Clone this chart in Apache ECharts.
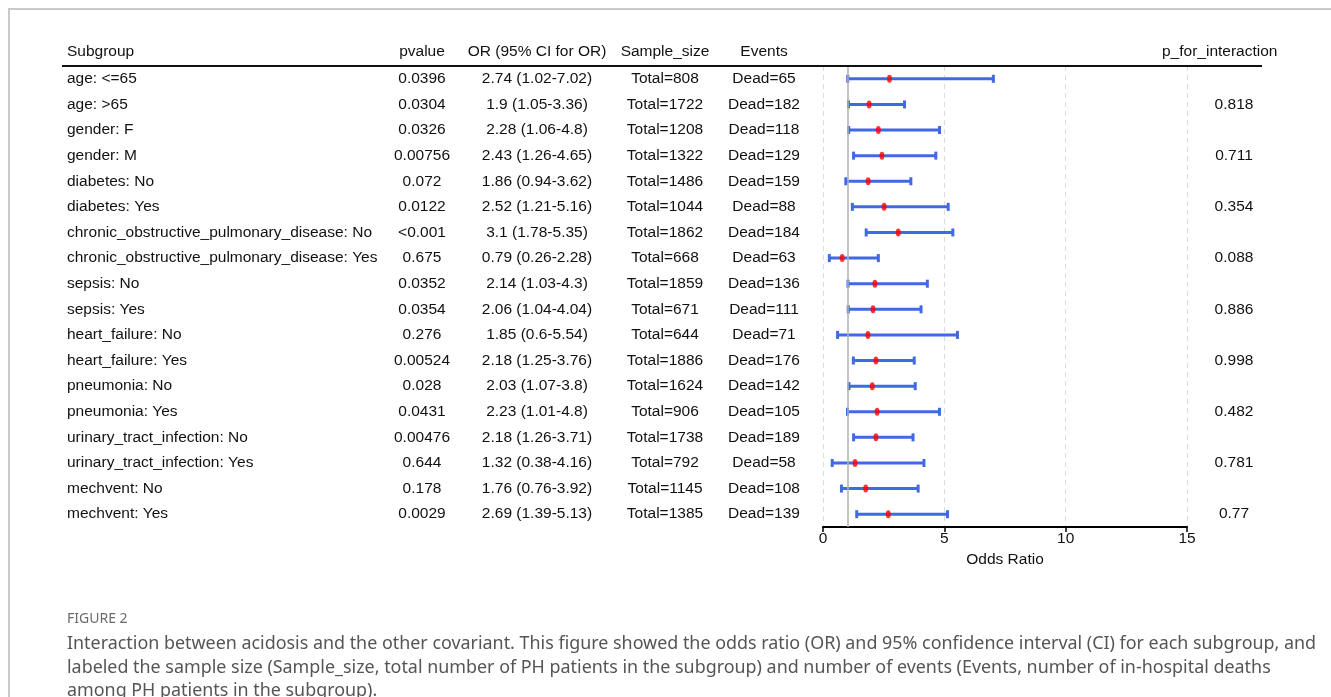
<!DOCTYPE html>
<html>
<head>
<meta charset="utf-8">
<script src="https://cdn.jsdelivr.net/npm/echarts@6/dist/echarts.min.js"></script>
<style>
html,body{margin:0;padding:0;background:#fff;}
#chart{width:1331px;height:697px;}
</style>
</head>
<body>
<div id="chart"></div>
<script>
// ---- data ----
const subgroups = [
  "age: <=65", "age: >65", "gender: F", "gender: M",
  "diabetes: No", "diabetes: Yes",
  "chronic_obstructive_pulmonary_disease: No", "chronic_obstructive_pulmonary_disease: Yes",
  "sepsis: No", "sepsis: Yes", "heart_failure: No", "heart_failure: Yes",
  "pneumonia: No", "pneumonia: Yes",
  "urinary_tract_infection: No", "urinary_tract_infection: Yes",
  "mechvent: No", "mechvent: Yes"
];
const pvalues = ["0.0396","0.0304","0.0326","0.00756","0.072","0.0122","<0.001","0.675","0.0352","0.0354","0.276","0.00524","0.028","0.0431","0.00476","0.644","0.178","0.0029"];
const orValues = [2.74,1.9,2.28,2.43,1.86,2.52,3.1,0.79,2.14,2.06,1.85,2.18,2.03,2.23,2.18,1.32,1.76,2.69];
const lowerCI  = [1.02,1.05,1.06,1.26,0.94,1.21,1.78,0.26,1.03,1.04,0.6,1.25,1.07,1.01,1.26,0.38,0.76,1.39];
const upperCI  = [7.02,3.36,4.8,4.65,3.62,5.16,5.35,2.28,4.3,4.04,5.54,3.76,3.8,4.8,3.71,4.16,3.92,5.13];
const sampleSize = [808,1722,1208,1322,1486,1044,1862,668,1859,671,644,1886,1624,906,1738,792,1145,1385];
const events = [65,182,118,129,159,88,184,63,136,111,71,176,142,105,189,58,108,139];
const pInteraction = ["","0.818","","0.711","","0.354","","0.088","","0.886","","0.998","","0.482","","0.781","","0.77"];
const headers = ["Subgroup","pvalue","OR (95% CI for OR)","Sample_size","Events","p_for_interaction"];
const xTicks = [0,5,10,15];
const xTitle = "Odds Ratio";
const figLabel = "FIGURE 2";
const captionLines = [
  "Interaction between acidosis and the other covariant. This figure showed the odds ratio (OR) and 95% confidence interval (CI) for each subgroup, and",
  "labeled the sample size (Sample_size, total number of PH patients in the subgroup) and number of events (Events, number of in-hospital deaths",
  "among PH patients in the subgroup)."
];

// ---- derived ----
const orText = orValues.map((v,i)=> v + " (" + lowerCI[i] + "-" + upperCI[i] + ")");
const totalText = sampleSize.map(v=>"Total=" + v);
const deadText = events.map(v=>"Dead=" + v);
const idx = subgroups.map((_,i)=>i);

const FONT = "Liberation Sans";
const FS = 15.5;
const TXT = '#111';
const PLOT_L = 823, PLOT_R = 1187, PLOT_T = 66, PLOT_B = 527;

function textAxis(data, x, align, position){
  const off = position === 'right' ? x - PLOT_R : PLOT_L - x;
  return {
    type:'category', data:data, inverse:true, gridIndex:0, position: position || 'left', offset: off,
    axisLine:{show:false}, axisTick:{show:false}, splitLine:{show:false},
    axisLabel:{show:true, margin:0, align:align, color:TXT, fontFamily:FONT, fontSize:FS}
  };
}

const headerX = [67, 422, 537, 665, 764, 1162];
const headerAlign = ['left','center','center','center','center','left'];

const graphics = [
  {type:'rect', shape:{x:9, y:9, width:1500, height:900}, style:{fill:'none', stroke:'#c9c9c9', lineWidth:2}, silent:true, z:0},
  {type:'line', shape:{x1:62, y1:PLOT_T, x2:1262, y2:PLOT_T}, style:{stroke:'#111', lineWidth:2}, z:10}
];
headers.forEach((h,i)=>{
  graphics.push({type:'text', x:headerX[i], y:52, style:{text:h, fill:TXT, font:FS + 'px "' + FONT + '"', textAlign:headerAlign[i], textVerticalAlign:'middle'}, z:10});
});
graphics.push({type:'text', x:67, y:619, style:{text:figLabel, fill:'#6a6a6a', font:'14px "Noto Sans", sans-serif', textAlign:'left', textVerticalAlign:'middle'}});
captionLines.forEach((l,i)=>{
  graphics.push({type:'text', x:67, y:644 + i*23.5, style:{text:l, fill:'#555', font:'17.9px "Noto Sans", sans-serif', textAlign:'left', textVerticalAlign:'middle'}});
});

const chart = echarts.init(document.getElementById('chart'), null, {renderer:'canvas'});
chart.setOption({
  animation:false,
  backgroundColor:'#fff',
  grid:{left:PLOT_L, right:1331-PLOT_R, top:PLOT_T, bottom:697-PLOT_B, containLabel:false},
  xAxis:{
    type:'value', min:xTicks[0], max:xTicks[xTicks.length-1], interval:5,
    name:xTitle, nameLocation:'middle', nameGap:22,
    nameTextStyle:{color:TXT, fontFamily:FONT, fontSize:FS},
    axisLine:{show:true, onZero:false, lineStyle:{color:'#000', width:2}},
    axisTick:{show:true, length:5, lineStyle:{color:'#000', width:1.5}},
    axisLabel:{color:TXT, fontFamily:FONT, fontSize:FS, margin:4},
    splitLine:{show:true, lineStyle:{color:'#dcdcdc', type:[5,4], width:1}}
  },
  yAxis:[
    {type:'category', data:idx, inverse:true, show:false},
    textAxis(subgroups, 67, 'left'),
    textAxis(pvalues, 422, 'center'),
    textAxis(orText, 537, 'center'),
    textAxis(totalText, 665, 'center'),
    textAxis(deadText, 764, 'center'),
    textAxis(pInteraction, 1234, 'center', 'right')
  ],
  graphic:graphics,
  series:[
    {
      type:'line', data:[], yAxisIndex:0, z:1,
      markLine:{silent:true, symbol:'none', label:{show:false},
        lineStyle:{color:'#b0b0b0', type:'solid', width:1.5},
        data:[{xAxis:1}]}
    },
    {
      type:'custom', yAxisIndex:0, z:2,
      data: idx.map(i=>[lowerCI[i], upperCI[i], i]),
      encode:{x:[0,1], y:2},
      renderItem:function(params, api){
        const a = api.coord([api.value(0), api.value(2)]);
        const b = api.coord([api.value(1), api.value(2)]);
        const st = {stroke:'#4169E1', lineWidth:3};
        const cap = 4;
        return {type:'group', children:[
          {type:'line', shape:{x1:a[0], y1:a[1], x2:b[0], y2:b[1]}, style:st},
          {type:'line', shape:{x1:a[0], y1:a[1]-cap, x2:a[0], y2:a[1]+cap}, style:st},
          {type:'line', shape:{x1:b[0], y1:b[1]-cap, x2:b[0], y2:b[1]+cap}, style:st}
        ]};
      }
    },
    {
      type:'scatter', yAxisIndex:0, z:3,
      data: idx.map(i=>[orValues[i], i]),
      symbol:'circle', symbolSize:[5,8],
      itemStyle:{color:'#ff0000'}
    }
  ]
});
</script>
</body>
</html>
